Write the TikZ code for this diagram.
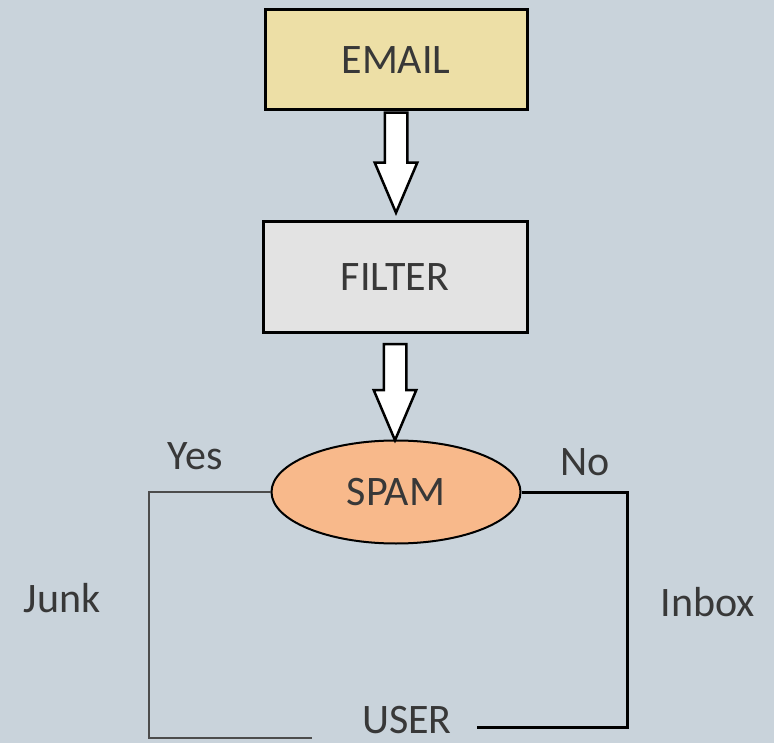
\documentclass[tikz,border=0pt]{standalone}
\usepackage{fontspec}
\setmainfont{Carlito}
\usetikzlibrary{shapes.geometric}
\usetikzlibrary{shapes.arrows}

\definecolor{bgblue}{HTML}{C9D3DB}
\definecolor{emailfill}{HTML}{EDDFA6}
\definecolor{filterfill}{HTML}{E3E3E3}
\definecolor{spamfill}{HTML}{F8B98B}
\definecolor{txtgray}{HTML}{383838}

\tikzset{
    box/.style={draw, line width=3pt, minimum width=262pt, minimum height=100pt, text=txtgray},
    bigarrow/.style={single arrow, draw, line width=2.5pt, fill=white, rotate=-90, anchor=tail,
        minimum height=100pt, inner sep=10pt, single arrow head extend=10pt,
        single arrow tip angle=46, single arrow head indent=0pt},
    lbl/.style={text=txtgray},
}

\begin{document}
\begin{tikzpicture}[x=1pt, y=-1pt, font=\fontsize{42}{50}\selectfont]
        %    \draw [help lines] (0,0) grid (774,743);
        \useasboundingbox (0,0) rectangle (774,743);
        \fill [bgblue] (0,0) rectangle (774,743);

        \path node (email) [box, fill=emailfill] at (396,60) {EMAIL};
        \path node (filter) [box, fill=filterfill, minimum width=264pt, minimum height=111pt] at (395,277) {FILTER};
        \path node (spam) [ellipse, draw, line width=2pt, fill=spamfill, text=txtgray,
            minimum width=249pt, minimum height=103pt] at (396,492) {SPAM};

        \path node (yes) [lbl] at (195,456) {Yes};
        \path node (no) [lbl] at (585,462) {No};
        \path node (junk) [lbl] at (62,598) {Junk};
        \path node (inbox) [lbl] at (708,602) {Inbox};
        \path node (user) [lbl] at (407,720) {USER};
        \coordinate (junkend) at (312,738);

        \path (email.south) -- (filter.north) node [pos=0, bigarrow] (a1) {};
        \path ([yshift=-9pt]filter.south) -- (spam.north) node [pos=0, bigarrow, minimum height=96pt] (a2) {};

        \draw [line width=2pt, black!70] (spam.west) -- ++(-122,0) |- (junkend);
        \draw [line width=3pt] (spam.east) -- ++(106,0) |- ([xshift=22pt, yshift=-7pt]user.east);

    \end{tikzpicture}
\end{document}
